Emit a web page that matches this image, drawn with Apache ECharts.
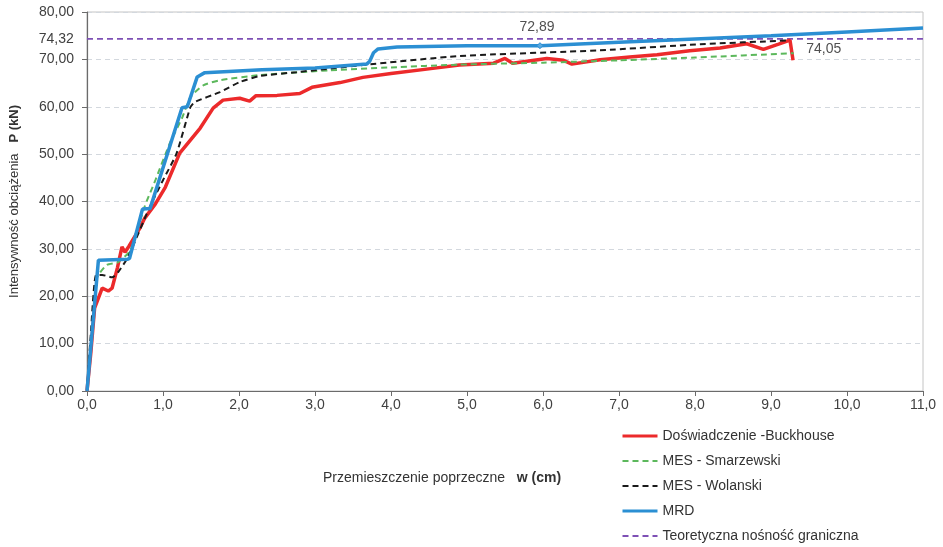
<!DOCTYPE html>
<html>
<head>
<meta charset="utf-8">
<script src="https://cdn.jsdelivr.net/npm/echarts@6/dist/echarts.min.js"></script>
<style>html,body{margin:0;padding:0;background:#fff;}#c{width:943px;height:547px;}</style>
</head>
<body>
<div id="c"></div>
<script>
const seriesNames = ['Doświadczenie -Buckhouse', 'MES - Smarzewski', 'MES - Wolanski', 'MRD', 'Teoretyczna nośność graniczna'];

const redX = [0, 0.05, 0.1, 0.2, 0.28, 0.33, 0.4, 0.46, 0.5, 0.55, 0.7, 0.76, 0.9, 1.03, 1.22, 1.49, 1.66, 1.79, 2.01, 2.14, 2.22, 2.5, 2.8, 2.96, 3.33, 3.63, 4.0, 4.55, 4.9, 5.35, 5.5, 5.6, 6.05, 6.27, 6.38, 6.75, 7.14, 7.5, 7.93, 8.33, 8.68, 8.9, 9.1, 9.25, 9.29];
const redY = [0, 8, 17.5, 21.7, 21.1, 21.7, 26, 30.4, 29.3, 30.5, 34.5, 36.5, 39.5, 43, 50.2, 55.5, 59.7, 61.4, 61.8, 61.2, 62.3, 62.4, 62.8, 64.1, 65.1, 66.2, 67.0, 68.1, 68.8, 69.2, 70.2, 69.2, 70.2, 69.8, 69.0, 69.9, 70.5, 71.0, 71.8, 72.4, 73.3, 72.1, 73.2, 74.05, 69.8];

const greenX = [0, 0.07, 0.13, 0.26, 0.41, 0.57, 0.76, 0.9, 1.09, 1.25, 1.36, 1.53, 1.75, 2.28, 3.2, 4.0, 4.9, 6.0, 7.0, 8.0, 9.3];
const greenY = [0, 14, 23.8, 26.6, 27.2, 29.7, 39, 44.5, 52.3, 57.6, 62, 64.5, 65.6, 66.7, 67.7, 68.3, 68.9, 69.3, 69.8, 70.4, 71.3];

const blackX = [0, 0.05, 0.12, 0.2, 0.33, 0.41, 0.54, 0.83, 1.0, 1.18, 1.36, 1.42, 1.75, 2.01, 2.28, 2.76, 3.63, 4.9, 6.75, 8.07, 9.25];
const blackY = [0, 12, 24.5, 24.5, 24.0, 25.1, 28.3, 39.0, 44.5, 50.2, 59.9, 61.0, 63.1, 65.2, 66.5, 67.3, 68.8, 70.7, 71.9, 73.2, 74.0];

const mrdX = [0, 0.15, 0.53, 0.56, 0.73, 0.83, 1.25, 1.32, 1.45, 1.55, 2.3, 3.0, 3.68, 3.72, 3.77, 3.83, 4.08, 5.0, 5.96, 7.0, 8.0, 9.0, 10.0, 11.0];
const mrdY = [0, 27.6, 27.8, 28.0, 38.4, 38.5, 59.8, 60.0, 66.3, 67.2, 67.8, 68.2, 69.0, 69.6, 71.4, 72.2, 72.6, 72.85, 72.89, 73.6, 74.3, 75.0, 75.8, 76.6];

const limitX = [0, 11];
const limitY = [74.32, 74.32];

const xTicks = ['0,0','1,0','2,0','3,0','4,0','5,0','6,0','7,0','8,0','9,0','10,0','11,0'];
const yTicks = ['0,00','10,00','20,00','30,00','40,00','50,00','60,00','70,00','80,00'];

const mrdLabelIndex = 18;   // 72,89
const redLabelIndex = 43;   // 74,05

function pairs(xs, ys) { return xs.map((x, i) => [x, ys[i]]); }
const fmt = v => v.toFixed(2).replace('.', ',');

const txt = '#404040';
const font = 'Liberation Sans, Arial, sans-serif';

const redData = pairs(redX, redY).map((p, i) => i === redLabelIndex ? {
  value: p, symbol: 'circle', symbolSize: 0.5,
  label: { show: true, position: 'right', distance: 16, offset: [0, 9], formatter: () => fmt(redY[redLabelIndex]), color: '#505050', fontSize: 14, fontFamily: font }
} : p);

const mrdData = pairs(mrdX, mrdY).map((p, i) => i === mrdLabelIndex ? {
  value: p,
  symbol: 'diamond', symbolSize: 6,
  itemStyle: { color: '#5aa9e0', borderColor: '#2b8fd3', borderWidth: 1 },
  label: { show: true, position: 'top', distance: 8, offset: [-3, 0], formatter: () => fmt(mrdY[mrdLabelIndex]), color: '#505050', fontSize: 14, fontFamily: font }
} : p);

const limitData = pairs(limitX, limitY).map((p, i) => i === 0 ? {
  value: p, symbol: 'circle', symbolSize: 0.5,
  label: { show: true, position: 'left', distance: 13, formatter: () => fmt(limitY[0]), color: txt, fontSize: 14, fontFamily: font }
} : p);

const chart = echarts.init(document.getElementById('c'), null, { renderer: 'canvas' });
chart.setOption({
  animation: false,
  backgroundColor: '#fff',
  textStyle: { fontFamily: font },
  grid: { left: 87, right: 20, top: 12, bottom: 156, show: true, borderColor: '#c4c4c4', borderWidth: 1,
          containLabel: false, outerBoundsMode: 'none' },
  legend: {
    data: [
      { name: seriesNames[0], lineStyle: { width: 3 } },
      { name: seriesNames[1] },
      { name: seriesNames[2] },
      { name: seriesNames[3], lineStyle: { width: 3 } },
      { name: seriesNames[4] }
    ],
    orient: 'vertical', left: 621, top: 429, padding: 0,
    itemWidth: 35, itemHeight: 14, itemGap: 11,
    itemStyle: { opacity: 0 },
    textStyle: { color: '#333', fontSize: 14, fontFamily: font }
  },
  xAxis: {
    type: 'value', min: 0, max: 11, interval: 1,
    name: '{a|Przemieszczenie poprzeczne   }{b|w (cm)}',
    nameLocation: 'middle', nameGap: 80,
    nameTextStyle: { padding: [0, 126, 0, 0], rich: {
      a: { color: '#333', fontSize: 14, fontFamily: font },
      b: { color: '#333', fontSize: 14, fontWeight: 'bold', fontFamily: font } } },
    axisLine: { lineStyle: { color: '#6b6b6b', width: 1.2 } },
    axisTick: { show: true, length: 5, lineStyle: { color: '#6b6b6b' } },
    axisLabel: { color: txt, fontSize: 14, margin: 7, formatter: v => xTicks[Math.round(v)] },
    splitLine: { show: false }
  },
  yAxis: {
    type: 'value', min: 0, max: 80, interval: 10,
    name: '{a|Intensywność obciążenia   }{b|P (kN)}',
    nameLocation: 'middle', nameGap: 66, nameRotate: 90,
    nameTextStyle: { rich: {
      a: { color: '#333', fontSize: 13, fontFamily: font },
      b: { color: '#333', fontSize: 13, fontWeight: 'bold', fontFamily: font } } },
    axisLine: { show: true, lineStyle: { color: '#6b6b6b', width: 1.2 } },
    axisTick: { show: true, length: 5, lineStyle: { color: '#6b6b6b' } },
    axisLabel: { color: txt, fontSize: 14, margin: 13, formatter: v => yTicks[Math.round(v / 10)] },
    splitLine: { show: true, lineStyle: { color: '#d3d8de', type: [5, 4], width: 1 } }
  },
  series: [
    { name: seriesNames[0], type: 'line', data: redData, symbol: 'none', z: 3,
      lineStyle: { color: '#ec2a2b', width: 3.5 }, itemStyle: { color: '#ec2a2b' } },
    { name: seriesNames[1], type: 'line', data: pairs(greenX, greenY), symbol: 'none', smooth: 0.2, z: 4,
      lineStyle: { color: '#5cb85c', width: 2, type: [6, 4] }, itemStyle: { color: '#5cb85c' } },
    { name: seriesNames[2], type: 'line', data: pairs(blackX, blackY), symbol: 'none', smooth: 0.2, z: 5,
      lineStyle: { color: '#1a1a1a', width: 2, type: [6, 4] }, itemStyle: { color: '#1a1a1a' } },
    { name: seriesNames[3], type: 'line', data: mrdData, symbol: 'none', z: 6,
      lineStyle: { color: '#2b8fd3', width: 3.5 }, itemStyle: { color: '#2b8fd3' } },
    { name: seriesNames[4], type: 'line', data: limitData, symbol: 'none', z: 2,
      lineStyle: { color: '#7e50b5', width: 1.8, type: [6, 4] }, itemStyle: { color: '#7e50b5' } }
  ]
});
</script>
</body>
</html>
